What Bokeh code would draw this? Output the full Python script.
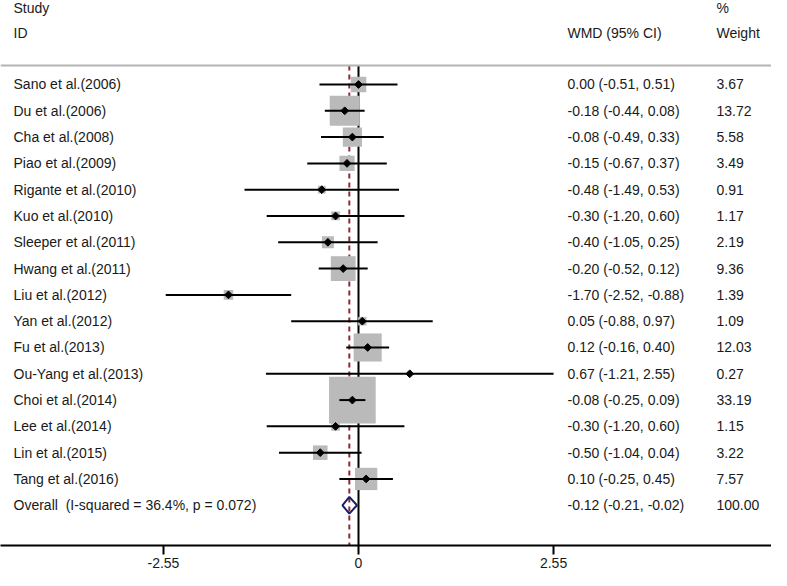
import math
from bokeh.plotting import figure
from bokeh.models import Range1d, FixedTicker, Span, ColumnDataSource
from bokeh.core.properties import value
from bokeh.embed import file_html
from bokeh.resources import INLINE

# ---------------- data ----------------
studies = ["Sano et al.(2006)", "Du et al.(2006)", "Cha et al.(2008)", "Piao et al.(2009)",
           "Rigante et al.(2010)", "Kuo et al.(2010)", "Sleeper et al.(2011)", "Hwang et al.(2011)",
           "Liu et al.(2012)", "Yan et al.(2012)", "Fu et al.(2013)", "Ou-Yang et al.(2013)",
           "Choi et al.(2014)", "Lee et al.(2014)", "Lin et al.(2015)", "Tang et al.(2016)"]
wmd = [0.00, -0.18, -0.08, -0.15, -0.48, -0.30, -0.40, -0.20, -1.70, 0.05, 0.12, 0.67, -0.08, -0.30, -0.50, 0.10]
ci_low = [-0.51, -0.44, -0.49, -0.67, -1.49, -1.20, -1.05, -0.52, -2.52, -0.88, -0.16, -1.21, -0.25, -1.20, -1.04, -0.25]
ci_high = [0.51, 0.08, 0.33, 0.37, 0.53, 0.60, 0.25, 0.12, -0.88, 0.97, 0.40, 2.55, 0.09, 0.60, 0.04, 0.45]
weights = [3.67, 13.72, 5.58, 3.49, 0.91, 1.17, 2.19, 9.36, 1.39, 1.09, 12.03, 0.27, 33.19, 1.15, 3.22, 7.57]

overall_label = "Overall\u00a0 (I-squared = 36.4%, p = 0.072)"
overall_est = -0.12
overall_low = -0.21
overall_high = -0.02
overall_weight = 100.00

tick_values = [-2.55, 0, 2.55]
tick_labels = ["-2.55", "0", "2.55"]

# ---------------- layout constants ----------------
FONT = "Liberation Sans"
FS = "14px"
TXT = "#1a1a1a"
X_STUDY = -4.51
X_CI = 2.732
X_W = 4.68
ROW_TOP = -3.194      # top edge of the plot frame in row units
ROW_BOTTOM = 17.53    # bottom edge (axis line) in row units
HEADER_LINE = -0.72

rows = list(range(len(studies)))
overall_row = len(studies)

src = ColumnDataSource(dict(
    y=rows, est=wmd, lo=ci_low, hi=ci_high,
    size=[8.1 * math.sqrt(w) for w in weights],
    label=studies,
    ci_text=["%.2f (%.2f, %.2f)" % (e, l, h) for e, l, h in zip(wmd, ci_low, ci_high)],
    w_text=["%.2f" % w for w in weights],
))

p = figure(width=771, height=570, output_backend="svg", toolbar_location=None,
           x_range=Range1d(-4.68, 5.399), y_range=Range1d(ROW_BOTTOM, ROW_TOP),
           y_axis_location=None, min_border=0, min_border_bottom=25,
           outline_line_color=None,
           background_fill_color="white", border_fill_color="white")
p.grid.visible = False

# header separator
p.add_layout(Span(location=HEADER_LINE, dimension="width", line_color="#b4b4b4", line_width=2))

# null line and overall dashed line
p.segment(x0=[0], y0=[HEADER_LINE], x1=[0], y1=[ROW_BOTTOM], line_color="black", line_width=2)
p.segment(x0=[overall_est], y0=[HEADER_LINE], x1=[overall_est], y1=[ROW_BOTTOM],
          line_color="#8b2a3a", line_width=2, line_dash="5 4")

# weight boxes
p.scatter("est", "y", size="size", marker="square", fill_color="#bababa",
          line_color=None, source=src)
# CIs
p.segment(x0="lo", y0="y", x1="hi", y1="y", line_color="black", line_width=2, source=src)
# point estimates (rotated squares)
p.scatter("est", "y", marker="square", angle=math.pi / 4, size=5.5,
          fill_color="black", line_color="black", line_width=1, source=src)

# overall diamond
h = 0.32
p.patch([overall_low, overall_est, overall_high, overall_est],
        [overall_row, overall_row - h, overall_row, overall_row + h],
        fill_alpha=0, line_color="#1e1d6b", line_width=2)

# texts
common = dict(text_font=value(FONT), text_font_size=FS, text_baseline="middle",
              text_align="left", text_color=TXT)
p.text(x=X_STUDY, y="y", text="label", source=src, **common)
p.text(x=X_CI, y="y", text="ci_text", source=src, **common)
p.text(x=X_W, y="y", text="w_text", source=src, **common)

p.text(x=[X_STUDY], y=[overall_row], text=[overall_label], **common)
p.text(x=[X_CI], y=[overall_row], text=["%.2f (%.2f, %.2f)" % (overall_est, overall_low, overall_high)], **common)
p.text(x=[X_W], y=[overall_row], text=["%.2f" % overall_weight], **common)

p.text(x=[X_STUDY, X_STUDY, X_CI, X_W, X_W], y=[-2.9, -1.94, -1.94, -2.9, -1.94],
       text=["Study", "ID", "WMD (95% CI)", "%", "Weight"], **common)

# x axis
ax = p.xaxis[0]
ax.ticker = FixedTicker(ticks=tick_values)
ax.major_label_overrides = {v: t for v, t in zip(tick_values, tick_labels)}
ax.axis_line_color = "black"
ax.axis_line_width = 2
ax.major_tick_line_color = "black"
ax.major_tick_line_width = 2
ax.major_tick_in = 0
ax.major_tick_out = 9
ax.minor_tick_line_color = None
ax.major_label_standoff = 3
ax.major_label_text_font = FONT
ax.major_label_text_font_size = FS
ax.major_label_text_color = TXT

open("out.html", "w").write(file_html(p, INLINE))
